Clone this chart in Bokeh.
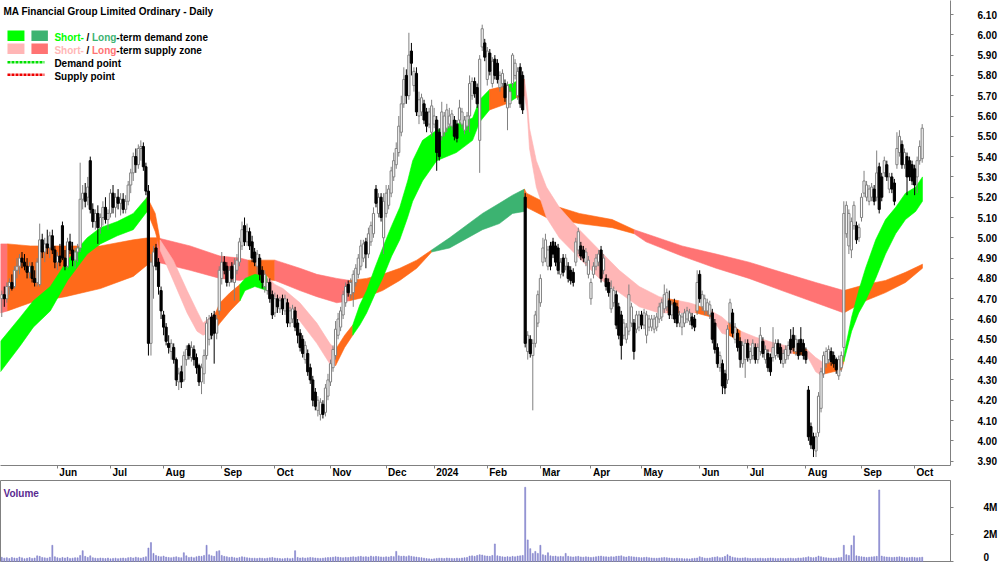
import numpy as np
import pandas as pd
from bokeh.plotting import figure
from bokeh.layouts import column
from bokeh.models import FixedTicker, NumeralTickFormatter, Range1d, ColumnDataSource
from bokeh.core.properties import value
from bokeh.embed import file_html
from bokeh.resources import INLINE

title_text = "MA Financial Group Limited Ordinary - Daily"
asx_holidays = ["2023-06-12", "2023-12-25", "2023-12-26", "2024-01-01", "2024-01-26",
                "2024-03-29", "2024-04-01", "2024-04-25", "2024-06-10"]

# daily prices in cents, trading days from 2023-05-02
open_c = [
    470,472,470,476,478,476,484,486,490,488, 486,483,486,480,478,477,499,493,497,495,
    501,494,488,491,506,490,486,498,494,489, 493,495,519,522,520,538,514,508,512,505,
    510,515,509,512,522,515,520,517,519,514, 518,526,532,540,536,544,545,535,523,448,
    486,495,488,474,462,456,448,444,446,440, 429,434,430,440,447,441,445,441,437,429,
    433,442,450,461,462,453,464,480,488,486, 478,486,478,484,488,496,506,498,503,498,
    493,486,490,484,476,474,478,472,463,470, 465,470,464,468,458,460,464,458,453,450,
    440,443,436,430,424,415,413,418,414,422, 429,436,442,452,456,462,468,477,472,473,
    478,482,486,490,498,492,498,502,524,512, 520,500,512,516,522,530,536,542,552,566,
    580,570,592,575,581,560,562,566,562,556, 552,556,558,552,550,552,554,556,555,558,
    556,558,556,553,555,560,570,577,574,548, 594,596,578,591,576,588,586,574,576,576,
    564,566,576,580,570,584,580,520,444,450, 442,448,458,468,488,490,486,496,498,496,
    495,482,490,486,486,484,483,488,494,496, 494,488,482,470,482,486,488,494,484,480,
    478,465,468,472,466,462,452,450,454,458, 458,455,456,462,457,452,456,456,455,456,
    460,461,465,466,469,462,468,466,458,456, 458,460,459,461,460,464,482,466,464,464,
    462,463,458,446,436,438,433,430,458,463, 450,453,449,438,440,448,440,442,446,440,
    444,449,440,443,441,441,442,448,446,438, 440,442,450,452,444,448,450,448,444,425,
    407,402,395,404,416,433,438,440,444,442, 440,432,436,446,502,496,494,506,506,500,
    510,522,520,518,520,524,520,535,530,532, 536,524,530,527,536,542,546,536,540,538,
    536,534,530,538,539]
high_c = [
    474,476,478,480,482,486,490,492,493,492, 490,488,488,484,490,507,502,500,504,503,
    504,496,493,497,508,494,500,502,498,495, 497,537,526,527,530,540,517,514,516,512,
    518,520,514,524,526,522,524,522,522,521, 528,534,542,544,546,548,547,537,526,492,
    496,497,490,476,464,458,452,450,448,441, 436,437,444,447,448,449,447,443,438,438,
    445,461,462,463,464,462,486,493,491,488, 486,488,490,492,500,508,510,507,505,501,
    495,494,492,486,484,480,480,474,473,472, 471,472,472,470,466,467,466,460,455,452,
    449,445,438,432,426,422,421,420,428,433, 440,447,459,463,466,474,478,479,480,484,
    487,492,499,499,500,505,508,515,526,522, 522,522,526,526,535,542,547,560,570,584,
    583,601,596,584,584,572,571,568,564,564, 568,564,560,554,567,562,566,564,563,560,
    558,568,564,560,562,580,579,579,576,590, 605,598,594,593,589,590,588,582,583,578,
    577,574,591,588,584,586,582,522,454,452, 450,464,474,482,500,502,496,498,500,498,
    497,490,492,492,488,486,485,500,505,498, 496,495,491,480,488,492,494,496,492,482,
    480,479,476,474,468,464,460,458,477,468, 460,464,464,464,465,464,462,462,462,463,
    468,470,477,475,474,469,470,468,464,463, 465,466,465,463,462,484,484,474,472,470,
    469,465,460,448,444,440,435,457,470,465, 458,455,451,449,450,450,446,450,448,448,
    456,451,447,445,443,456,450,450,448,445, 447,449,455,456,452,450,456,450,446,427,
    409,404,404,424,436,444,446,447,446,444, 441,442,444,518,518,514,510,518,508,507,
    522,533,528,526,527,526,543,537,532,540, 538,532,532,529,552,553,548,544,542,540,
    538,536,540,548,556]
low_c = [
    461,466,468,472,474,475,480,482,485,484, 480,480,478,476,476,476,490,488,492,490,
    492,485,484,486,489,484,485,492,486,485, 488,493,514,515,516,512,505,504,497,502,
    506,507,504,510,512,510,514,511,512,512, 516,522,528,532,534,538,533,521,442,442,
    470,484,472,460,452,447,443,440,438,427, 425,426,429,437,440,439,437,433,427,423,
    428,440,447,450,438,450,462,477,482,476, 476,478,469,482,486,494,496,496,494,488,
    486,482,479,475,473,472,468,460,461,463, 463,462,462,456,456,458,454,448,444,441,
    438,432,428,417,415,412,410,411,412,420, 427,434,440,450,454,460,466,471,470,466,
    476,480,484,488,485,490,496,500,515,510, 508,492,510,514,520,528,534,540,550,564,
    566,568,580,572,560,556,560,556,552,554, 550,554,533,538,548,550,552,554,553,548,
    547,556,554,551,553,552,568,569,564,532, 592,587,575,580,574,578,576,572,574,567,
    553,564,574,578,568,564,561,446,440,441, 415,446,456,466,486,488,484,484,490,486,
    482,480,481,484,478,477,476,486,492,489, 488,486,480,467,480,484,486,478,482,474,
    471,463,466,455,450,440,450,448,452,456, 440,453,454,455,455,448,454,454,453,454,
    458,459,463,464,460,460,458,456,456,452, 456,458,457,455,454,462,468,464,462,462,
    460,448,443,436,434,423,423,428,456,451, 448,444,436,436,431,439,438,440,438,438,
    442,441,438,434,432,439,440,441,438,436, 438,440,443,444,442,440,442,440,438,400,
    396,392,392,402,414,431,436,438,437,436, 433,430,434,441,500,492,490,504,497,498,
    508,520,518,516,518,516,518,512,518,530, 528,522,522,516,534,540,534,534,521,528,
    526,521,522,536,537]
close_c = [
    472,470,476,478,475,484,486,490,488,486, 483,486,480,478,488,499,493,497,495,501,
    494,488,491,488,490,486,498,494,489,493, 495,519,522,518,525,514,508,512,505,510,
    515,509,512,522,515,520,517,519,514,518, 526,532,540,536,544,545,535,523,448,488,
    493,486,476,464,456,449,446,448,440,430, 433,429,442,445,442,446,440,436,429,436,
    442,458,460,452,453,460,484,488,484,478, 484,480,487,489,498,504,498,503,496,490,
    488,492,482,478,482,478,470,462,470,466, 469,465,470,458,464,465,456,452,446,443,
    447,434,430,420,417,420,419,413,426,430, 438,445,455,460,464,472,476,473,478,482,
    485,490,496,497,492,502,506,512,517,520, 510,518,522,524,533,538,544,555,566,578,
    570,590,586,582,562,568,569,558,555,562, 565,560,542,540,562,560,563,560,561,550,
    549,564,562,558,560,576,577,571,566,588, 603,589,592,582,587,580,578,580,581,569,
    575,572,590,586,582,566,563,448,452,443, 448,462,472,480,495,499,494,486,492,488,
    484,488,483,490,480,479,478,498,503,491, 490,493,489,478,486,490,492,480,490,476,
    473,475,474,457,452,447,458,456,472,466, 444,462,462,457,463,462,460,460,460,461,
    466,468,472,473,462,467,460,458,462,461, 463,464,463,457,456,478,470,472,470,468,
    467,450,445,438,442,427,426,455,468,453, 456,446,440,447,448,441,444,448,440,446,
    452,443,445,436,434,446,448,443,440,443, 445,447,445,446,450,442,444,442,440,402,
    398,396,402,422,434,442,444,445,439,438, 435,440,442,512,516,512,508,516,499,505,
    520,528,526,524,525,518,532,514,520,538, 530,530,524,518,544,550,536,542,530,530,
    528,526,538,545,554]
volume_k = [
    310,250,280,220,300,260,240,330,270,210, 250,290,230,260,420,380,300,270,250,310,
    1200,350,280,240,300,260,310,230,250,280, 270,450,800,380,300,420,280,250,230,260,
    240,220,260,200,230,250,210,240,260,230, 280,300,260,320,280,250,300,350,1000,1400,
    600,450,380,350,400,330,300,280,320,350, 300,280,650,420,300,330,280,350,400,380,
    450,1200,500,420,380,750,800,450,380,350, 300,330,280,260,300,350,320,280,260,240,
    250,230,260,240,220,250,270,300,260,240, 220,200,230,250,210,240,800,300,260,280,
    250,270,300,280,260,240,230,250,270,290, 300,320,350,330,300,280,310,290,330,350,
    320,360,380,340,360,330,400,350,380,360, 340,320,350,330,380,360,750,420,380,400,
    360,420,380,350,330,300,280,250,220,200, 180,200,230,250,240,220,260,240,230,220,
    250,230,260,280,300,400,420,380,450,500, 480,420,400,380,450,1300,420,380,350,330,
    360,340,380,350,400,420,450,5500,1600,950, 600,750,600,1200,500,450,650,420,380,400,
    350,380,360,600,380,350,330,360,380,340, 320,350,330,300,320,350,380,400,360,350,
    330,360,340,380,400,420,350,330,380,360, 340,320,300,280,300,320,280,260,250,240,
    260,280,300,280,260,240,220,250,230,220, 200,210,190,220,240,260,350,300,250,240,
    260,300,320,350,280,300,380,500,400,320, 280,260,240,260,280,250,230,220,240,230,
    250,230,220,240,260,250,230,220,240,230, 220,240,250,230,220,260,250,280,300,350,
    300,280,320,400,350,300,280,260,250,240, 260,280,300,1200,500,450,1200,1900,420,380,
    350,330,300,320,340,360,380,5300,400,350, 330,320,300,310,330,350,320,300,280,300,
    320,300,280,300,320]

# short-term zone (read at trading-day positions): upper, lower, state of following stretch
st_x = [0.5, 8.4, 13.5, 20.2, 27.0, 34.8, 40.0, 46.7, 53.0, 58.5, 61.7, 63.6, 68.8, 74.3, 78.2,
        80.6, 85.5, 87.3, 91.3, 95.2, 97.2, 101.1, 105.9, 109.0, 112.2, 118.9, 125.6, 130.7,
        133.0, 136.6, 139.8, 142.6, 145.3, 148.5, 151.6, 155.2, 158.4, 161.5, 163.5, 167.4,
        173.0, 180.8, 187.2, 190.0, 193.9, 200.6, 204.5, 207.7, 208.8, 209.7, 212.4, 216.4,
        221.5, 229.4, 237.3, 245.2, 253.1, 261.0, 264.5, 268.8, 272.8, 275.5, 281.5, 285.8,
        288.5, 293.3, 299.2, 307.1, 314.0, 319.4, 322.9, 325.3, 326.5, 333.2, 334.0, 337.1,
        339.9, 342.6, 346.6, 350.5, 354.5, 358.4, 362.4, 365.1]
st_hi = [4.49, 4.61, 4.69, 4.76, 4.89, 5.00, 5.05, 5.08, 5.12, 5.20, 5.12, 4.99, 4.89, 4.74, 4.64,
         4.58, 4.63, 4.68, 4.73, 4.77, 4.80, 4.82, 4.81, 4.77, 4.75, 4.68, 4.58, 4.48,
         4.45, 4.52, 4.57, 4.67, 4.74, 4.85, 4.95, 5.06, 5.15, 5.28, 5.38, 5.48,
         5.53, 5.56, 5.59, 5.68, 5.73, 5.75, 5.77, 5.78, 5.68, 5.54, 5.38, 5.25,
         5.15, 5.04, 4.94, 4.84, 4.76, 4.71, 4.70, 4.69, 4.68, 4.67, 4.64, 4.61,
         4.58, 4.54, 4.51, 4.48, 4.46, 4.45, 4.41, 4.39, 4.38, 4.40, 4.42, 4.61,
         4.74, 4.85, 4.99, 5.09, 5.15, 5.22, 5.25, 5.30]
st_lo = [4.34, 4.47, 4.56, 4.64, 4.79, 4.92, 4.97, 5.01, 5.04, 5.13, 5.03, 4.94, 4.79, 4.63, 4.54,
         4.52, 4.55, 4.58, 4.64, 4.69, 4.74, 4.76, 4.74, 4.71, 4.69, 4.59, 4.48, 4.38,
         4.37, 4.46, 4.52, 4.57, 4.63, 4.72, 4.80, 4.91, 4.99, 5.10, 5.18, 5.28,
         5.38, 5.42, 5.48, 5.57, 5.63, 5.66, 5.69, 5.70, 5.62, 5.44, 5.25, 5.10,
         5.00, 4.90, 4.80, 4.73, 4.66, 4.63, 4.63, 4.63, 4.63, 4.63, 4.61, 4.53,
         4.52, 4.49, 4.46, 4.43, 4.43, 4.42, 4.34, 4.32, 4.33, 4.35, 4.39, 4.54,
         4.63, 4.69, 4.80, 4.92, 5.02, 5.09, 5.13, 5.18]
st_state = list("GGGGGGGGGOOPPPPPOOOGGGPPPPPPOOGGGGGGGGGGGGGGOGOPPPPPPPPPPPOPPOPPOPPPOPPPOOGGGGGGGGGG")

# long-term zone
lt_x = [0.5, 3.3, 12.3, 26.2, 40.0, 53.0, 58.9, 62.5, 75.5, 87.3, 95.2, 98.5, 109.0, 118.9,
        125.6, 133.5, 138.6, 145.3, 151.6, 158.4, 165.1, 171.0, 178.1, 191.1, 197.8, 203.0,
        207.7, 208.5, 216.4, 229.4, 242.4, 251.1, 255.8, 270.0, 283.5, 296.5, 309.5, 322.9,
        334.0, 342.6, 350.5, 358.4, 365.1]
lt_hi = [4.97, 4.97, 4.96, 4.96, 4.96, 4.99, 5.00, 5.00, 4.96, 4.91, 4.90, 4.89, 4.89, 4.85,
         4.82, 4.80, 4.79, 4.80, 4.82, 4.85, 4.89, 4.94, 5.00, 5.12, 5.17, 5.21,
         5.24, 5.22, 5.17, 5.12, 5.09, 5.04, 5.02, 4.96, 4.92, 4.88, 4.83, 4.78,
         4.74, 4.77, 4.79, 4.83, 4.87]
lt_lo = [4.63, 4.64, 4.68, 4.71, 4.75, 4.81, 4.87, 4.88, 4.84, 4.80, 4.79, 4.80, 4.79, 4.74,
         4.71, 4.68, 4.69, 4.71, 4.74, 4.79, 4.85, 4.93, 4.95, 5.04, 5.07, 5.12,
         5.13, 5.15, 5.10, 5.07, 5.05, 5.02, 4.98, 4.91, 4.85, 4.80, 4.74, 4.68,
         4.63, 4.69, 4.73, 4.78, 4.85]
lt_state = list("SOOOOOOSSSSOSSSSOOOOODDDDDOOOOOSSSSSSSOOOOO")

price_ticks = [3.90, 4.00, 4.10, 4.20, 4.30, 4.40, 4.50, 4.60, 4.70, 4.80, 4.90, 5.00,
               5.10, 5.20, 5.30, 5.40, 5.50, 5.60, 5.70, 5.80, 5.90, 6.00, 6.10]
vol_ticks = [0, 2000000, 4000000]
vol_tick_labels = ["0", "2M", "4M"]

ZONE_COLORS = {"G": "#00ff00", "P": "#ffb6b6", "O": "#ff6a1a", "D": "#3cb371", "S": "#ff7373"}
FONT = "Liberation Sans"

# ---------- geometry ----------
X0, PPD = 0.5, 2.534            # first visible day position, pixels per trading day
FRAME_W = 952
X1 = X0 + FRAME_W / PPD
YTOP, PPU = 6.169, 203.0        # price at top edge, pixels per dollar
Y0 = YTOP - 465 / PPU


def dx(px):
    return X0 + px / PPD


def dy(py):
    return YTOP - py / PPU


days = pd.bdate_range("2023-05-01", "2024-10-04")
days = days[~days.isin(pd.to_datetime(asx_holidays))]

n = min(len(open_c), len(high_c), len(low_c), len(close_c), len(volume_k))
x = np.arange(1, n + 1)
o = np.array(open_c[:n]) / 100.0
h = np.array(high_c[:n]) / 100.0
l = np.array(low_c[:n]) / 100.0
c = np.array(close_c[:n]) / 100.0
vol = np.array(volume_k[:n]) * 1000.0

# month ticks
month_starts = [i for i in range(1, len(days)) if days[i].month != days[i - 1].month]
month_labels = ["2024" if days[i].month == 1 else days[i].strftime("%b") for i in month_starts]
CW = {"J": 556, "u": 611, "n": 611, "l": 278, "A": 722, "g": 611, "S": 667, "e": 556, "p": 611,
      "O": 778, "c": 556, "t": 333, "N": 722, "o": 611, "v": 556, "D": 722, "2": 556, "0": 556,
      "4": 556, "F": 611, "b": 611, "M": 833, "a": 556, "r": 389, "y": 556}
label_pos = []
for i, lab in zip(month_starts, month_labels):
    w = sum(CW.get(ch, 600) for ch in lab) * 10 / 1000.0
    label_pos.append(round(i + (2 + w / 2) / PPD, 3))

# ---------- price figure ----------
p = figure(width=1000, height=480, x_range=Range1d(X0, X1), y_range=Range1d(Y0, YTOP),
           y_axis_location="right", toolbar_location=None, output_backend="svg",
           min_border_left=0, min_border_right=48, min_border_top=0, min_border_bottom=15)
p.grid.visible = False
p.outline_line_color = None
p.background_fill_color = "white"
p.border_fill_color = "white"


def add_zone(fig, xs, hi, lo, st):
    m = len(xs)
    pxs, pys, cols = [], [], []
    k = 0
    while k < m - 1:
        s = st[k]
        j = k
        while j + 1 < m - 1 and st[j + 1] == s:
            j += 1
        idx = list(range(k, j + 2))
        xx = [xs[t] for t in idx]
        pxs.append(xx + xx[::-1])
        pys.append([hi[t] for t in idx] + [lo[t] for t in idx][::-1])
        cols.append(ZONE_COLORS[s])
        k = j + 1
    fig.patches(pxs, pys, fill_color=cols, line_color=cols, line_width=0.6)


add_zone(p, lt_x, lt_hi, lt_lo, lt_state)
add_zone(p, st_x, st_hi, st_lo, st_state)

up = c >= o
dn = ~up
src_up = ColumnDataSource(dict(x=x[up], h=h[up], l=l[up], top=np.maximum(o, c)[up], bot=np.minimum(o, c)[up]))
src_dn = ColumnDataSource(dict(x=x[dn], h=h[dn], l=l[dn], top=np.maximum(o, c)[dn], bot=np.minimum(o, c)[dn]))
p.segment(x0="x", y0="h", x1="x", y1="l", source=src_up, line_color="#808080", line_width=1)
p.vbar(x="x", width=0.85, top="top", bottom="bot", source=src_up,
       fill_color="white", line_color="#808080", line_width=1)
p.segment(x0="x", y0="h", x1="x", y1="l", source=src_dn, line_color="black", line_width=1)
p.vbar(x="x", width=0.85, top="top", bottom="bot", source=src_dn,
       fill_color="black", line_color="black", line_width=1)

# axes
p.yaxis.ticker = FixedTicker(ticks=price_ticks)
p.yaxis.formatter = NumeralTickFormatter(format="0.00")
ya = p.yaxis[0]
ya.axis_line_color = "#808080"
ya.major_tick_line_color = "#808080"
ya.major_tick_out = 3
ya.major_tick_in = 0
ya.minor_tick_line_color = None
ya.major_label_standoff = 24
ya.major_label_text_font = FONT
ya.major_label_text_font_style = "bold"
ya.major_label_text_font_size = "10px"
ya.major_label_text_color = "black"

xa = p.xaxis[0]
xa.ticker = FixedTicker(ticks=label_pos, minor_ticks=month_starts)
xa.major_label_overrides = {pos: lab for pos, lab in zip(label_pos, month_labels)}
xa.axis_line_color = "#808080"
xa.major_tick_out = 0
xa.major_tick_in = 0
xa.minor_tick_out = 3
xa.minor_tick_in = 0
xa.minor_tick_line_color = "#808080"
xa.major_label_standoff = -2
xa.major_label_text_font = FONT
xa.major_label_text_font_style = "bold"
xa.major_label_text_font_size = "10px"
xa.major_label_text_color = "black"

# title and legend
TXT = dict(text_font=value(FONT), text_font_style="bold", text_font_size="10px",
           text_baseline="alphabetic", text_align="left")
p.text(x=[dx(3)], y=[dy(10.5)], text=[title_text], text_color="black", **TXT)

p.quad(left=[dx(7), dx(31)], right=[dx(24), dx(47.5)], top=[dy(30), dy(30)], bottom=[dy(40.5), dy(40.5)],
       fill_color=[ZONE_COLORS["G"], ZONE_COLORS["D"]], line_color=None)
p.quad(left=[dx(7), dx(31)], right=[dx(24), dx(47.5)], top=[dy(43), dy(43)], bottom=[dy(53.5), dy(53.5)],
       fill_color=[ZONE_COLORS["P"], ZONE_COLORS["S"]], line_color=None)

row_items = [
    (36.5, [("Short-", ZONE_COLORS["G"], 54), ("/", "black", 86.2), ("Long", ZONE_COLORS["D"], 91.7),
            ("-term demand zone", "black", 116.1)]),
    (49.5, [("Short-", ZONE_COLORS["P"], 54), ("/", "black", 86.2), ("Long", ZONE_COLORS["S"], 91.7),
            ("-term supply zone", "black", 116.1)]),
]
for base, parts in row_items:
    p.text(x=[dx(px) for _, _, px in parts], y=[dy(base)] * len(parts),
           text=[t for t, _, _ in parts], text_color=[col for _, col, _ in parts], **TXT)

p.line(x=[dx(7), dx(44)], y=[dy(61.7), dy(61.7)], line_color="#00e000", line_width=2.6, line_dash="3 1")
p.line(x=[dx(7), dx(44)], y=[dy(74.3), dy(74.3)], line_color="#ee0000", line_width=2.6, line_dash="3 1")
p.text(x=[dx(54), dx(54)], y=[dy(63.3), dy(75.8)], text=["Demand point", "Supply point"],
       text_color="black", **TXT)

# ---------- volume figure ----------
VTOP = 6.0e6
v = figure(width=1000, height=82, x_range=p.x_range, y_range=Range1d(-0.074e6, VTOP),
           y_axis_location="right", x_axis_location=None, toolbar_location=None, output_backend="svg",
           min_border_left=0, min_border_right=48, min_border_top=0, min_border_bottom=0)
v.grid.visible = False
v.outline_line_color = "#808080"
v.background_fill_color = "white"
v.border_fill_color = "white"
v.vbar(x=x, top=vol, bottom=0, width=0.4, fill_color="#8585cc", line_color="#8585cc", line_width=0.6)

va = v.yaxis[0]
va.ticker = FixedTicker(ticks=vol_ticks)
va.major_label_overrides = {t: s for t, s in zip(vol_ticks, vol_tick_labels)}
va.axis_line_color = "#808080"
va.major_tick_line_color = "#808080"
va.major_tick_out = 3
va.major_tick_in = 0
va.minor_tick_line_color = None
va.major_label_standoff = 30
va.major_label_text_font = FONT
va.major_label_text_font_style = "bold"
va.major_label_text_font_size = "10px"
va.major_label_text_color = "black"

v.text(x=[dx(3)], y=[VTOP - 13.0 / 13.5 * 1e6], text=["Volume"], text_color="#5a2a90", **TXT)

layout = column(p, v, spacing=0)
html = file_html(layout, INLINE, title=title_text)
html = html.replace("</head>", "<style>html,body{margin:0;padding:0;overflow:hidden;}</style></head>", 1)
open("out.html", "w").write(html)
